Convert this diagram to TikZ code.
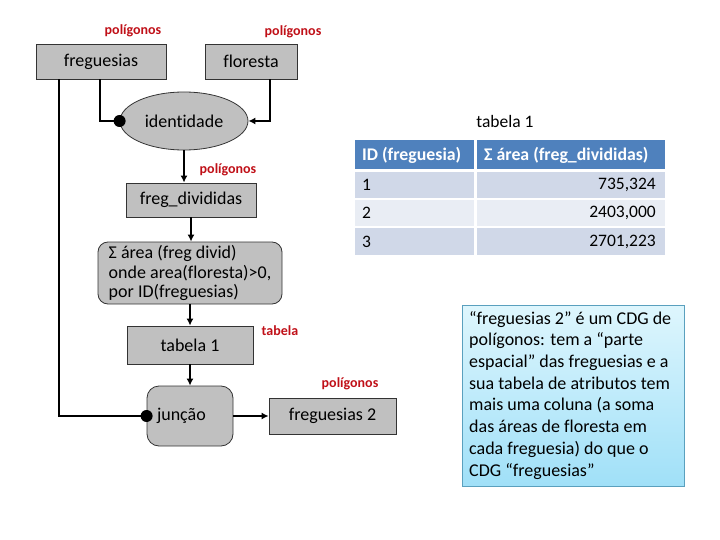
\documentclass[tikz,border=0pt]{standalone}
\usepackage{fontspec}
\setmainfont{Carlito}[Ligatures=NoCommon]
\usetikzlibrary{shapes.geometric,arrows.meta,calc}
\definecolor{boxgray}{RGB}{192,192,192}
\definecolor{lblred}{RGB}{192,16,24}
\definecolor{hdrblue}{RGB}{79,129,189}
\definecolor{rowa}{RGB}{208,216,232}
\definecolor{rowb}{RGB}{233,237,244}
\definecolor{notetop}{RGB}{222,246,253}
\definecolor{notebot}{RGB}{160,224,248}
\definecolor{noteborder}{RGB}{90,160,190}
\tikzset{
  mainfont/.style={font=\fontsize{18}{21}\selectfont},
  opbox/.style={draw=black!80, fill=boxgray, line width=0.8pt, mainfont, inner sep=0pt},
  lbl/.style={text=lblred, font=\bfseries\fontsize{14}{16}\selectfont, inner sep=0pt},
  conn/.style={line width=2pt, draw=black},
  arr/.style={conn, -{Latex[length=7pt,width=7pt]}},
  dotc/.style={fill=black, circle, inner sep=0pt, minimum size=12pt},
  celltxt/.style={font=\fontsize{17.5}{20}\selectfont, inner sep=0pt},
  hdrtxt/.style={font=\bfseries\fontsize{17.8}{20}\selectfont, text=white, inner sep=0pt},
}
\begin{document}
\begin{tikzpicture}[x=1pt,y=-1pt]
\useasboundingbox (0,0) rectangle (720,540);
% boxes
\node[opbox, minimum width=130pt, minimum height=35pt] (fr) at (101,61.5) {freguesias};
\node[opbox, minimum width=92pt, minimum height=35pt] (fl) at (251,61.5) {floresta};
\node[lbl] (l1) at (133,31) {polígonos};
\node[lbl] (l2) at (293,32) {polígonos};
\node[opbox, ellipse, minimum width=128pt, minimum height=58pt] (id) at (184,121) {identidade};
\node[opbox, minimum width=130pt, minimum height=34pt] (fd) at (191,200) {freg\_divididas};
\node[lbl] (l3) at (228,170) {polígonos};
\node[opbox, rounded corners=10pt, minimum width=184pt, minimum height=62pt, align=left, font=\fontsize{18}{19.8}\selectfont] (sm) at (190,273) {Σ área (freg divid)\\onde area(floresta)>0,\\por ID(freguesias)};
\node[opbox, minimum width=126pt, minimum height=38pt] (t1) at (190,345) {tabela 1};
\node[lbl] (l4) at (280,331) {tabela};
\node[opbox, rounded corners=12pt, minimum width=86pt, minimum height=60pt, text width=66pt, align=left] (jn) at (190,416) {junção};
\node[opbox, minimum width=127pt, minimum height=36pt] (f2) at (332.5,416) {freguesias 2};
\node[lbl] (l5) at (350,384) {polígonos};
% connectors
\coordinate (a1) at ($(fr.south west)+(23,0)$);
\coordinate (a2) at ($(fr.south west)+(64,0)$);
\coordinate (a3) at ($(fl.south west)+(65,0)$);
\draw[conn] (a1) |- (jn.west);
\draw[conn] (a2) |- (id.west);
\draw[arr] (a3) |- (id.east);
\draw[arr] (id.south) -- (id.south |- fd.north);
\draw[arr] (fd.south) -- (fd.south |- sm.north);
\draw[arr] (sm.south) -- (t1.north);
\draw[arr] (t1.south) -- (jn.north);
\draw[arr] (jn.east) -- (f2.west);
\node[dotc] (d1) at (id.west) {};
\node[dotc] (d2) at (jn.west) {};
% table
\node[celltxt] (tt) at (505,121) {tabela 1};
\fill[hdrblue] (355,140) rectangle (474,169);
\fill[hdrblue] (477,140) rectangle (665,169);
\fill[rowa] (355,172) rectangle (474,198);
\fill[rowa] (477,172) rectangle (665,198);
\fill[rowb] (355,200) rectangle (474,226);
\fill[rowb] (477,200) rectangle (665,226);
\fill[rowa] (355,228) rectangle (474,255);
\fill[rowa] (477,228) rectangle (665,255);
\node[hdrtxt, anchor=west] (h1) at (362,155) {ID (freguesia)};
\node[hdrtxt, anchor=west] (h2) at (484,155) {Σ área (freg\_divididas)};
\node[celltxt, anchor=west] (c11) at (362,185) {1};
\node[celltxt, anchor=east] (c12) at (656,185) {735,324};
\node[celltxt, anchor=west] (c21) at (362,213) {2};
\node[celltxt, anchor=east] (c22) at (656,213) {2403,000};
\node[celltxt, anchor=west] (c31) at (362,242) {3};
\node[celltxt, anchor=east] (c32) at (656,242) {2701,223};
% note
\shade[top color=notetop, bottom color=notebot] (462,305) rectangle (684,486);
\draw[noteborder, line width=0.8pt] (462,305) rectangle (684,486);
\node[anchor=north west, align=left, inner sep=0pt, font=\fontsize{18}{21.7}\selectfont] (nt) at (469,311) {“freguesias 2” é um CDG de\\polígonos: tem a “parte\\espacial” das freguesias e a\\sua tabela de atributos tem\\mais uma coluna (a soma\\das áreas de floresta em\\cada freguesia) do que o\\CDG “freguesias”};
\end{tikzpicture}
\end{document}
